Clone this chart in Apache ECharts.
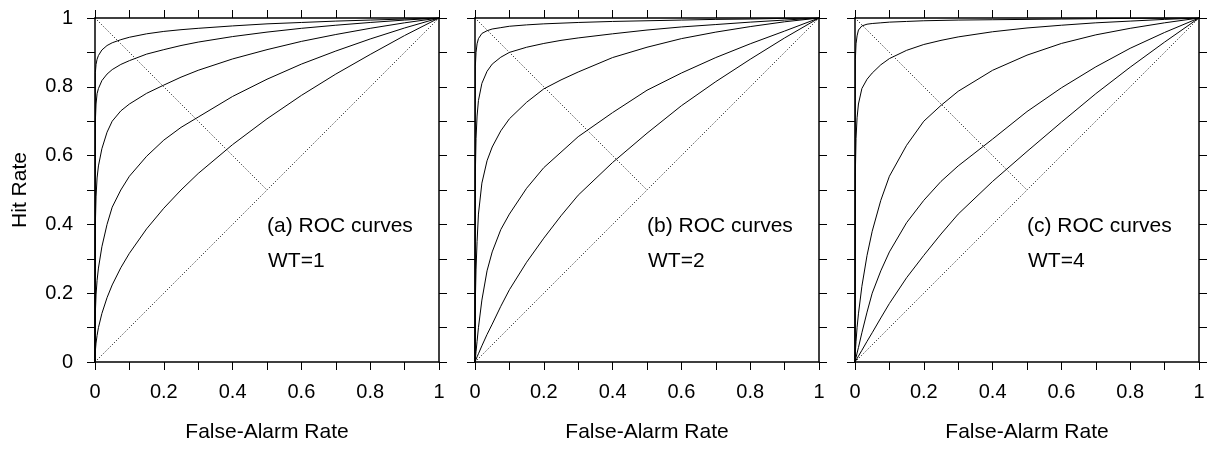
<!DOCTYPE html>
<html>
<head>
<meta charset="utf-8">
<script src="https://cdn.jsdelivr.net/npm/echarts@6/dist/echarts.min.js"></script>
<style>
html,body{margin:0;padding:0;background:#fff;}
#chart{width:1208px;height:449px;}
</style>
</head>
<body>
<div id="chart"></div>
<script>
// False-alarm rate sample points (shared by all curves)
const xGrid = [0, 0.001, 0.003, 0.006, 0.01, 0.02, 0.035, 0.05, 0.075, 0.1, 0.15, 0.2, 0.25, 0.3, 0.4, 0.5, 0.6, 0.7, 0.8, 0.9, 1];

// Panel (a) WT=1 — hit rates
const a1 = [0, 0.841, 0.865, 0.88, 0.891, 0.907, 0.92, 0.928, 0.937, 0.944, 0.954, 0.961, 0.966, 0.970, 0.977, 0.983, 0.987, 0.991, 0.994, 0.997, 1];
const a2 = [0, 0.70, 0.75, 0.78, 0.795, 0.818, 0.837, 0.85, 0.865, 0.876, 0.895, 0.908, 0.92, 0.930, 0.946, 0.959, 0.970, 0.979, 0.987, 0.994, 1];
const a3 = [0, 0.40, 0.48, 0.535, 0.57, 0.62, 0.668, 0.70, 0.73, 0.75, 0.781, 0.805, 0.828, 0.848, 0.881, 0.908, 0.932, 0.952, 0.970, 0.986, 1];
const a4 = [0, 0.143, 0.195, 0.237, 0.273, 0.335, 0.40, 0.45, 0.50, 0.54, 0.598, 0.645, 0.682, 0.712, 0.772, 0.822, 0.866, 0.904, 0.939, 0.971, 1];
const a5 = [0, 0.032, 0.055, 0.077, 0.100, 0.141, 0.187, 0.224, 0.274, 0.316, 0.387, 0.447, 0.500, 0.548, 0.632, 0.707, 0.775, 0.837, 0.894, 0.949, 1];

// Panel (b) WT=2 — hit rates
const b1 = [0, 0.86, 0.90, 0.925, 0.94, 0.955, 0.963, 0.968, 0.972, 0.976, 0.980, 0.983, 0.985, 0.987, 0.990, 0.992, 0.994, 0.996, 0.997, 0.999, 1];
const b2 = [0, 0.55, 0.65, 0.715, 0.76, 0.81, 0.845, 0.866, 0.886, 0.90, 0.915, 0.926, 0.935, 0.942, 0.954, 0.965, 0.974, 0.981, 0.988, 0.994, 1];
const b3 = [0, 0.18, 0.27, 0.35, 0.43, 0.52, 0.585, 0.625, 0.672, 0.707, 0.755, 0.794, 0.82, 0.843, 0.885, 0.915, 0.940, 0.959, 0.975, 0.989, 1];
const b4 = [0, 0.01, 0.03, 0.06, 0.10, 0.18, 0.265, 0.32, 0.385, 0.43, 0.505, 0.565, 0.61, 0.655, 0.725, 0.79, 0.84, 0.885, 0.925, 0.962, 1];
const b5 = [0, 0.0025, 0.0075, 0.015, 0.024, 0.047, 0.08, 0.11, 0.162, 0.21, 0.29, 0.36, 0.425, 0.485, 0.58, 0.665, 0.745, 0.815, 0.88, 0.942, 1];

// Panel (c) WT=4 — hit rates
const c1 = [0, 0.88, 0.925, 0.948, 0.965, 0.977, 0.982, 0.984, 0.986, 0.988, 0.990, 0.992, 0.993, 0.994, 0.995, 0.996, 0.997, 0.998, 0.999, 0.9995, 1];
const c2 = [0, 0.55, 0.65, 0.71, 0.75, 0.795, 0.822, 0.84, 0.864, 0.882, 0.906, 0.923, 0.935, 0.945, 0.960, 0.971, 0.979, 0.986, 0.991, 0.996, 1];
const c3 = [0, 0.03, 0.06, 0.10, 0.14, 0.22, 0.31, 0.38, 0.47, 0.54, 0.63, 0.70, 0.746, 0.787, 0.848, 0.892, 0.926, 0.951, 0.970, 0.986, 1];
const c4 = [0, 0.004, 0.013, 0.026, 0.042, 0.085, 0.145, 0.20, 0.265, 0.32, 0.405, 0.47, 0.525, 0.57, 0.648, 0.728, 0.797, 0.858, 0.912, 0.958, 1];
const c5 = [0, 0.0017, 0.005, 0.01, 0.017, 0.034, 0.06, 0.085, 0.128, 0.17, 0.245, 0.31, 0.372, 0.43, 0.525, 0.612, 0.697, 0.78, 0.857, 0.93, 1];

// Reference lines
const diagX = [0, 1], diagY = [0, 1];
const antiX = [0, 0.5], antiY = [1, 0.5];

const panelCurves = [[a1, a2, a3, a4, a5], [b1, b2, b3, b4, b5], [c1, c2, c3, c4, c5]];
const panelTitles = ['(a) ROC curves', '(b) ROC curves', '(c) ROC curves'];
const panelWT = ['WT=1', 'WT=2', 'WT=4'];
const tickLabels = ['0', '0.2', '0.4', '0.6', '0.8', '1'];

const FONT = 'Liberation Sans, Arial, sans-serif';
const panelLeft = [95, 475, 855];
const PW = 344, PT = 18;

function labelFmt(v) {
  const k = Math.round(v * 10);
  return k % 2 === 0 ? tickLabels[k / 2] : '';
}

const grid = [], xAxis = [], yAxis = [], series = [], graphic = [];
const lineCommon = { show: true, onZero: false, lineStyle: { color: '#000', width: 1.5 } };
const tickCommon = { show: true, inside: false, length: 8, lineStyle: { color: '#000', width: 1 } };

panelLeft.forEach((L, i) => {
  grid.push({ left: L, top: PT, width: PW, height: PW, containLabel: false });
  xAxis.push({
    type: 'value', gridIndex: i, min: 0, max: 1, interval: 0.1, position: 'bottom',
    axisLine: lineCommon, axisTick: tickCommon, splitLine: { show: false },
    axisLabel: { show: true, margin: 20, formatter: labelFmt, color: '#000', fontSize: 20, fontFamily: FONT, hideOverlap: false },
    name: 'False-Alarm Rate', nameLocation: 'middle', nameGap: 60,
    nameTextStyle: { color: '#000', fontSize: 21, fontFamily: FONT }
  });
  xAxis.push({
    type: 'value', gridIndex: i, min: 0, max: 1, interval: 0.1, position: 'top',
    axisLine: lineCommon, axisTick: tickCommon, splitLine: { show: false },
    axisLabel: { show: false }
  });
  yAxis.push({
    type: 'value', gridIndex: i, min: 0, max: 1, interval: 0.1, position: 'left',
    axisLine: lineCommon, axisTick: tickCommon, splitLine: { show: false },
    axisLabel: { show: i === 0, margin: 22, formatter: labelFmt, color: '#000', fontSize: 20, fontFamily: FONT, hideOverlap: false },
    name: i === 0 ? 'Hit Rate' : '', nameLocation: 'middle', nameGap: 64,
    nameTextStyle: { color: '#000', fontSize: 21, fontFamily: FONT }
  });
  yAxis.push({
    type: 'value', gridIndex: i, min: 0, max: 1, interval: 0.1, position: 'right',
    axisLine: lineCommon, axisTick: tickCommon, splitLine: { show: false },
    axisLabel: { show: false }
  });

  const xi = i * 2, yi = i * 2;
  panelCurves[i].forEach(ys => {
    series.push({
      type: 'line', xAxisIndex: xi, yAxisIndex: yi, symbol: 'none', smooth: false,
      lineStyle: { color: '#000', width: 1 },
      data: xGrid.map((x, j) => [x, ys[j]]), z: 3, silent: true
    });
  });
  series.push({
    type: 'line', xAxisIndex: xi, yAxisIndex: yi, symbol: 'none',
    lineStyle: { color: '#000', width: 1, type: [1, 2] },
    data: diagX.map((x, j) => [x, diagY[j]]), z: 2, silent: true
  });
  series.push({
    type: 'line', xAxisIndex: xi, yAxisIndex: yi, symbol: 'none',
    lineStyle: { color: '#000', width: 1, type: [1, 2] },
    data: antiX.map((x, j) => [x, antiY[j]]), z: 2, silent: true
  });

  graphic.push({
    type: 'text', left: L + 172, top: 216,
    style: { text: panelTitles[i], fill: '#000', font: '21px ' + FONT }
  });
  graphic.push({
    type: 'text', left: L + 173, top: 251,
    style: { text: panelWT[i], fill: '#000', font: '21px ' + FONT }
  });
});

const chart = echarts.init(document.getElementById('chart'), null, { renderer: 'canvas' });
chart.setOption({
  animation: false,
  backgroundColor: '#fff',
  grid, xAxis, yAxis, series, graphic
});
</script>
</body>
</html>
